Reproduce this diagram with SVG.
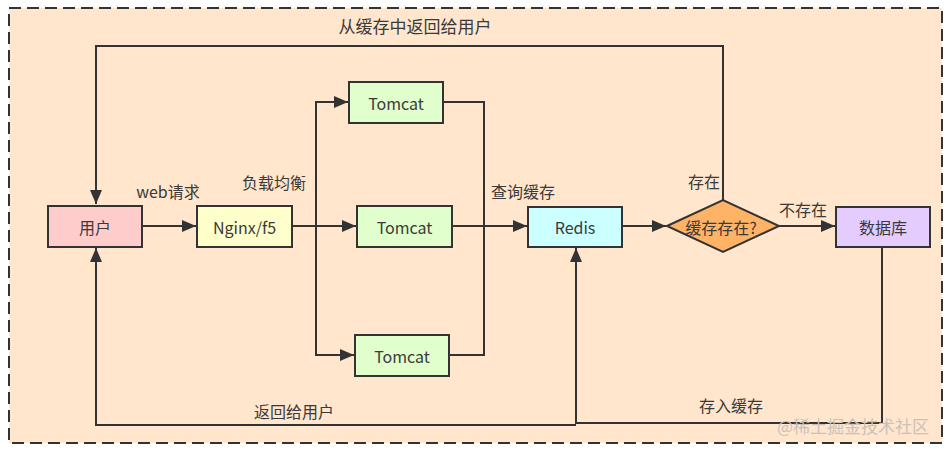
<svg xmlns="http://www.w3.org/2000/svg" width="949" height="449" viewBox="0 0 949 449">
<style>
  .box{stroke:#333;stroke-width:2}
  .lbl{font-family:"Noto Sans CJK SC","Noto Sans",sans-serif;font-size:16px;fill:#3a3a3a;text-anchor:middle;dominant-baseline:central}
  .edge{fill:none;stroke:#333;stroke-width:2}
</style>
<defs>
  <marker id="arr" markerUnits="userSpaceOnUse" markerWidth="14" markerHeight="12" viewBox="0 0 14 12" refX="14" refY="6" orient="auto">
    <path d="M0,0 L14,6 L0,12 z" fill="#333"/>
  </marker>
</defs>
<rect x="0" y="0" width="949" height="449" fill="#ffffff"/>
<rect id="container" x="9" y="8" width="933" height="435" fill="#ffe6cc" stroke="#333" stroke-width="2" stroke-dasharray="12,6"/>

<g id="connectors">
  <path class="edge" d="M723,200 V46 H96 V204" marker-end="url(#arr)"/>
  <path class="edge" d="M142,226 H196" marker-end="url(#arr)"/>
  <path class="edge" d="M292,226 H356" marker-end="url(#arr)"/>
  <path class="edge" d="M316,226 V102 H348" marker-end="url(#arr)"/>
  <path class="edge" d="M316,226 V355 H354" marker-end="url(#arr)"/>
  <path class="edge" d="M443,102 H484 V355 H449"/>
  <path class="edge" d="M452,226 H527" marker-end="url(#arr)"/>
  <path class="edge" d="M622,226 H666" marker-end="url(#arr)"/>
  <path class="edge" d="M779,226 H835" marker-end="url(#arr)"/>
  <path class="edge" d="M882,247 V423 H576 V248" marker-end="url(#arr)"/>
  <path class="edge" d="M576,425 H96 V248" marker-end="url(#arr)"/>
</g>

<g id="user"><rect class="box" x="48" y="206" width="94" height="41" fill="#ffcccc"/><text class="lbl" x="95" y="226.5">用户</text></g>
<g id="nginx"><rect class="box" x="197" y="206" width="95" height="41" fill="#ffffcc"/><text class="lbl" x="244.5" y="226.5">Nginx/f5</text></g>
<g id="tomcat1"><rect class="box" x="349" y="82" width="94" height="41" fill="#e0ffcc"/><text class="lbl" x="396" y="102.5">Tomcat</text></g>
<g id="tomcat2"><rect class="box" x="357" y="206" width="95" height="41" fill="#e0ffcc"/><text class="lbl" x="404.5" y="226.5">Tomcat</text></g>
<g id="tomcat3"><rect class="box" x="355" y="335" width="94" height="41" fill="#e0ffcc"/><text class="lbl" x="402" y="355.5">Tomcat</text></g>
<g id="redis"><rect class="box" x="528" y="207" width="94" height="40" fill="#ccffff"/><text class="lbl" x="575" y="227">Redis</text></g>
<g id="decision"><polygon class="box" points="667,226 723,200 779,226 723,252" fill="#ffb366"/><text class="lbl" x="721" y="227">缓存存在?</text></g>
<g id="db"><rect class="box" x="836" y="207" width="94" height="40" fill="#e5ccff"/><text class="lbl" x="883" y="227">数据库</text></g>

<g id="labels">
  <text class="lbl" x="415" y="25" style="font-size:17px">从缓存中返回给用户</text>
  <text class="lbl" x="168" y="191">web请求</text>
  <text class="lbl" x="274" y="182">负载均衡</text>
  <text class="lbl" x="523" y="191">查询缓存</text>
  <text class="lbl" x="704" y="181">存在</text>
  <text class="lbl" x="803" y="209">不存在</text>
  <text class="lbl" x="731" y="405">存入缓存</text>
  <text class="lbl" x="294" y="411">返回给用户</text>
  <text x="853" y="425" style="font-family:'Noto Sans CJK SC',sans-serif;font-size:17px;fill:#c9c2bb;text-anchor:middle;dominant-baseline:central">@稀土掘金技术社区</text>
</g>
</svg>
